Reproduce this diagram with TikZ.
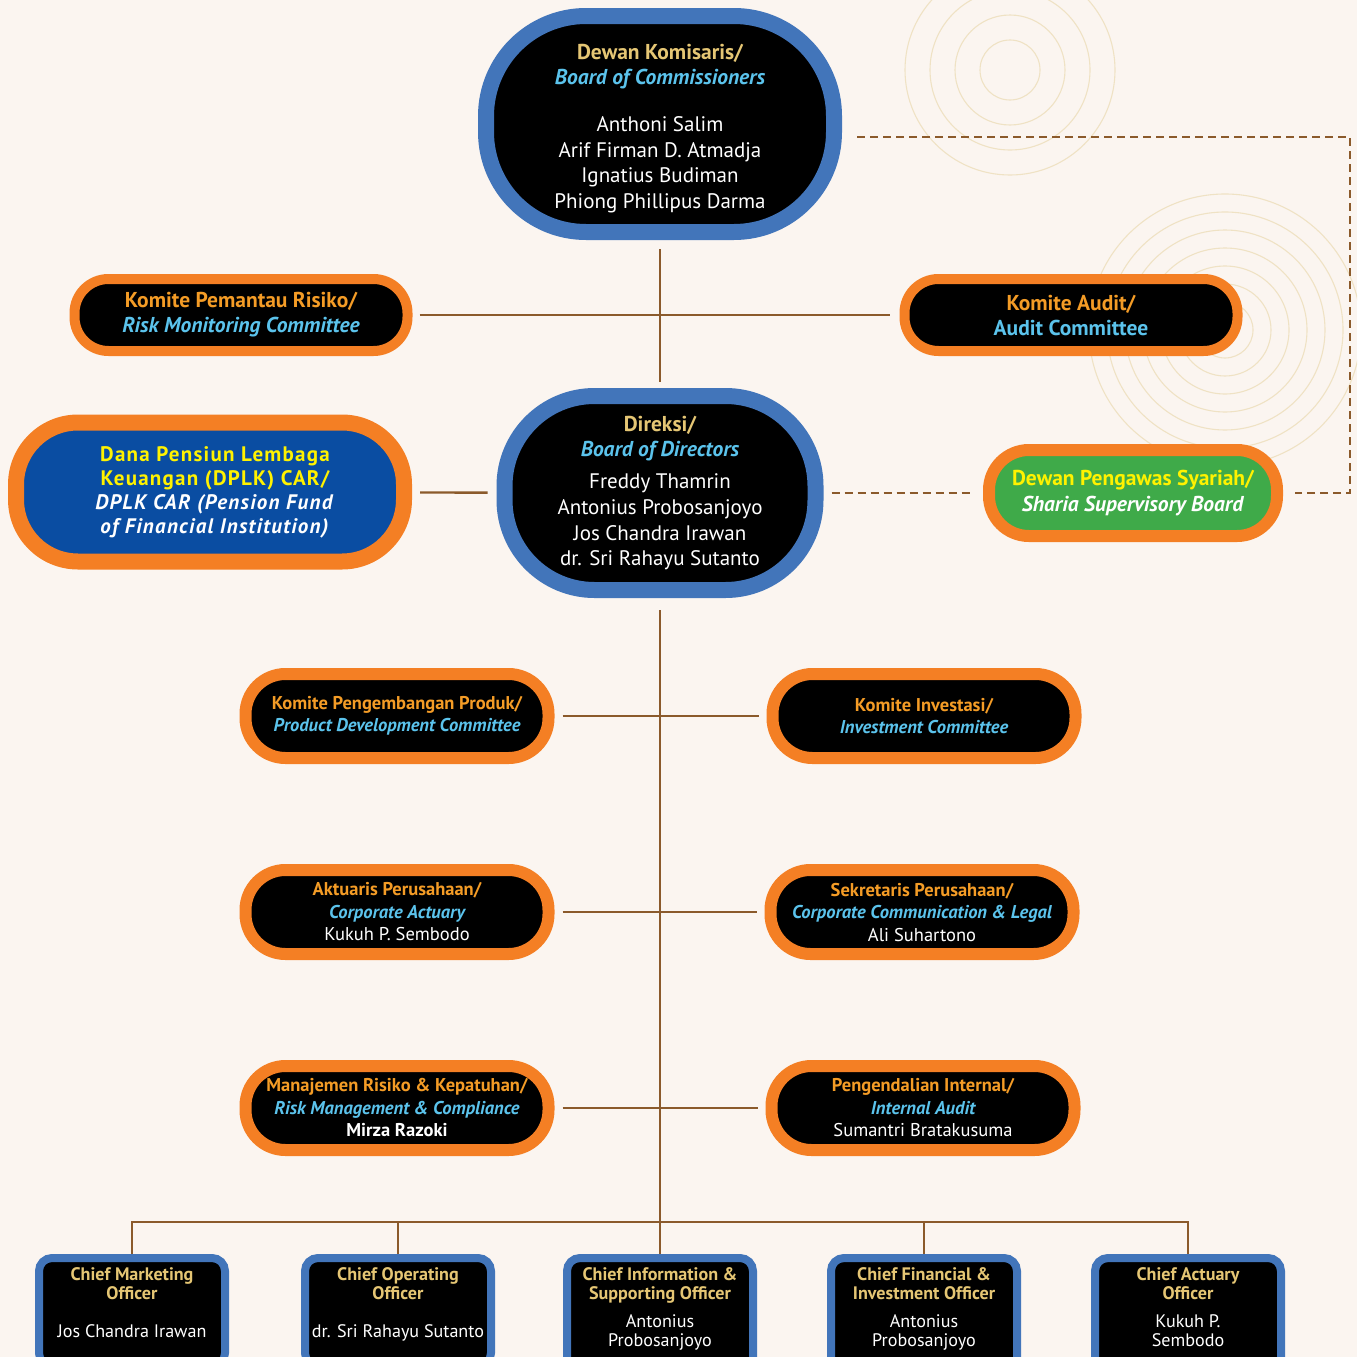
\documentclass[tikz,border=0pt]{standalone}
\usepackage{fontspec}
\setmainfont{PT Sans}
\usepackage{tikz}
\usetikzlibrary{calc}

\definecolor{bgcream}{HTML}{FBF5F0}
\definecolor{ornament}{HTML}{EFE2C4}
\definecolor{bblue}{HTML}{4275BA}
\definecolor{korange}{HTML}{F47F24}
\definecolor{dplkblue}{HTML}{0A4DA2}
\definecolor{sgreen}{HTML}{3FAA49}
\definecolor{goldtext}{HTML}{E5C674}
\definecolor{orangetext}{HTML}{F49C26}
\definecolor{cyantext}{HTML}{5BC3EC}
\definecolor{yel}{HTML}{FFF200}
\definecolor{linebrown}{HTML}{8B5A2B}

\newcommand{\gld}[1]{{\color{goldtext}\bfseries #1}}
\newcommand{\idn}[1]{{\color{orangetext}\bfseries #1}}
\newcommand{\eng}[1]{{\color{cyantext}\bfseries\itshape #1}}
\newcommand{\dy}[1]{{\color{yel}\bfseries #1}}

\begin{document}
\begin{tikzpicture}[x=1pt,y=-1pt,
  every node/.style={align=center, inner sep=0pt, text=white},
  board/.style={fill=black, draw=bblue, line width=16pt, font=\fontsize{21}{25.7}\selectfont},
  komite/.style={fill=black, draw=korange, line width=12pt, minimum width=303pt, minimum height=84pt,
                 rounded corners=40pt, font=\fontsize{18.5}{22.5}\selectfont},
  chief/.style={fill=black, draw=bblue, line width=8pt, rounded corners=13pt, minimum width=186pt,
                anchor=north, inner ysep=10pt, text depth=18pt, font=\fontsize{18.1}{19}\selectfont},
  link/.style={draw=linebrown, line width=2.4pt},
  dashlink/.style={link, dash pattern=on 8pt off 5pt},
]
  % background
  \fill[bgcream] (0,0) rectangle (1357,1357);
  \clip (0,0) rectangle (1357,1357);
  \begin{scope}[draw=ornament, line width=1.1pt]
    \foreach \r in {28,46,...,150} \draw (1225,330) circle[radius=\r pt];
    \foreach \r in {30,55,80,105} \draw (1010,70) circle[radius=\r pt];
  \end{scope}

  % boards
  \node[board, minimum width=348pt, minimum height=216pt, rounded corners=100pt] (com) at (660,124)
    {\rule{0pt}{24pt}\gld{\fontsize{21.5}{25.7}\selectfont Dewan Komisaris/}\\ \eng{\fontsize{21.5}{25.7}\selectfont Board of Commissioners}\\[21pt]
     Anthoni Salim\\ Arif Firman D. Atmadja\\ Ignatius Budiman\\ Phiong Phillipus Darma};
  \node[board, minimum width=311pt, minimum height=194pt, rounded corners=90pt] (dir) at (660,493)
    {\gld{\fontsize{21.5}{25.7}\selectfont Direksi/}\\ \eng{\fontsize{21.5}{25.7}\selectfont Board of Directors}\\[6pt]
     Freddy Thamrin\\ Antonius Probosanjoyo\\ Jos Chandra Irawan\\ dr. Sri Rahayu Sutanto};

  % committees of the board of commissioners
  \node[komite, line width=10pt, minimum width=333pt, minimum height=72pt, rounded corners=34pt,
        font=\fontsize{21.5}{25}\selectfont] (risk) at (241,315)
    {\idn{Komite Pemantau Risiko/}\\ \eng{Risk Monitoring Committee}};
  \node[komite, line width=10pt, minimum width=333pt, minimum height=72pt, rounded corners=34pt,
        font=\fontsize{21.5}{25}\selectfont] (audit) at (1071,315)
    {\idn{Komite Audit/}\\ {\color{cyantext}\bfseries Audit Committee}};

  \node[draw=korange, line width=16pt, fill=dplkblue, minimum width=388pt, minimum height=139pt,
        rounded corners=62pt, font={\fontsize{21}{24}\selectfont\addfontfeature{LetterSpace=6}}] (dplk) at (210,492)
    {\dy{\hspace*{10pt}Dana Pensiun Lembaga}\\ \dy{\hspace*{10pt}Keuangan (DPLK) CAR/}\\
     \textbf{\textit{\hspace*{10pt}DPLK CAR (Pension Fund}}\\ \textbf{\textit{\hspace*{10pt}of Financial Institution)}}};
  \node[draw=korange, line width=12pt, fill=sgreen, minimum width=288pt, minimum height=86pt,
        rounded corners=40pt, font=\fontsize{21.5}{26}\selectfont] (sya) at (1133,493)
    {\dy{Dewan Pengawas Syariah/}\\ \textbf{\textit{Sharia Supervisory Board}}};

  % committees and units under the directors
  \node[komite] (prod) at (397,716) {\idn{Komite Pengembangan Produk/}\\ \eng{Product Development Committee}};
  \node[komite] (inv) at (924,716) {\idn{Komite Investasi/}\\ \eng{Investment Committee}};
  \node[komite] (act) at (397,912) {\idn{Aktuaris Perusahaan/}\\ \eng{Corporate Actuary}\\ Kukuh P. Sembodo};
  \node[komite] (sek) at (922,912) {\idn{Sekretaris Perusahaan/}\\ \eng{Corporate Communication \& Legal}\\ Ali Suhartono};
  \node[komite] (rmc) at (397,1108) {\idn{Manajemen Risiko \& Kepatuhan/}\\ \eng{Risk Management \& Compliance}\\ \textbf{Mirza Razoki}};
  \node[komite] (ia) at (923,1108) {\idn{Pengendalian Internal/}\\ \eng{Internal Audit}\\ Sumantri Bratakusuma};

  % chiefs
  \node[chief] (cmo) at (132,1254) {\gld{Chief Marketing}\\ \gld{Officer}\\[19pt] Jos Chandra Irawan};
  \node[chief] (coo) at (398,1254) {\gld{Chief Operating}\\ \gld{Officer}\\[19pt] dr. Sri Rahayu Sutanto};
  \node[chief] (cio) at (660,1254) {\gld{Chief Information \&}\\ \gld{Supporting Officer}\\[9pt] Antonius\\ Probosanjoyo};
  \node[chief] (cfo) at (924,1254) {\gld{Chief Financial \&}\\ \gld{Investment Officer}\\[9pt] Antonius\\ Probosanjoyo};
  \node[chief] (cao) at (1188,1254) {\gld{Chief Actuary}\\ \gld{Officer}\\[9pt] Kukuh P.\\ Sembodo};

  % connectors
  \draw[link, shorten <=9pt, shorten >=6pt] (com) -- (dir);
  \draw[link, shorten <=7pt, shorten >=10pt] (risk) -- (audit);
  \draw[link, shorten <=8pt, shorten >=9pt] (dplk) -- (dir);
  \draw[dashlink, shorten <=8pt, shorten >=13pt] (dir) -- (sya);
  \draw[dashlink] ([xshift=15pt,yshift=-13pt]com.east) -| ([xshift=67pt]sya.east) -- ([xshift=12pt]sya.east);
  \draw[link, shorten <=12pt] (dir) -- (cio);
  \draw[link, shorten <=8pt, shorten >=8pt] (prod) -- (inv);
  \draw[link, shorten <=8pt, shorten >=8pt] (act) -- (sek);
  \draw[link, shorten <=8pt, shorten >=8pt] (rmc) -- (ia);
  \draw[link] (cmo.north) -- ++(0,-32) -| (cao.north);
  \draw[link] (coo.north) -- ++(0,-32);
  \draw[link] (cfo.north) -- ++(0,-32);
\end{tikzpicture}
\end{document}
